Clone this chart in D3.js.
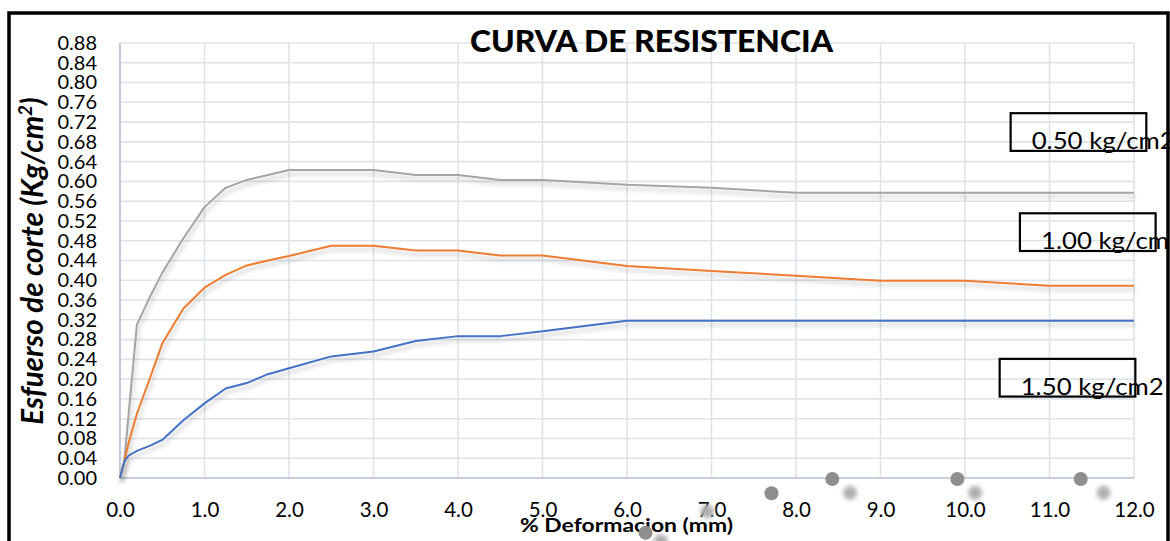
<!DOCTYPE html>
<html>
<head>
<meta charset="utf-8">
<script src="https://cdn.jsdelivr.net/npm/d3@7/dist/d3.min.js"></script>
<style>
  html, body { margin: 0; padding: 0; background: #fff; }
  svg { display: block; }
  text { font-family: Lato, "Open Sans", "DejaVu Sans", sans-serif; fill: #000; }
</style>
</head>
<body>
<svg id="chart" width="1170" height="541"></svg>
<script>
// Deformation readings (mm) shared by the three tests
const deformacion = [0, 0.05, 0.1, 0.2, 0.35, 0.5, 0.75, 1.0, 1.25, 1.5, 1.75, 2.0, 2.5, 3.0, 3.5, 4.0, 4.5, 5.0, 6.0, 7.0, 8.0, 9.0, 10.0, 11.0, 12.0];

// Shear stress (Kg/cm2) for each normal load
const esfuerzo050 = [0, 0.033, 0.125, 0.31, 0.365, 0.415, 0.485, 0.548, 0.587, 0.603, 0.613, 0.623, 0.623, 0.623, 0.613, 0.613, 0.603, 0.603, 0.593, 0.587, 0.577, 0.577, 0.577, 0.577, 0.577];
const esfuerzo100 = [0, 0.033, 0.07, 0.13, 0.2, 0.272, 0.343, 0.385, 0.411, 0.43, 0.44, 0.449, 0.47, 0.47, 0.46, 0.46, 0.45, 0.45, 0.429, 0.419, 0.409, 0.399, 0.399, 0.389, 0.389];
const esfuerzo150 = [0, 0.033, 0.045, 0.055, 0.065, 0.077, 0.117, 0.151, 0.181, 0.192, 0.21, 0.222, 0.246, 0.256, 0.277, 0.287, 0.287, 0.297, 0.318, 0.318, 0.318, 0.318, 0.318, 0.318, 0.318];

const seriesNames = ["0.50 kg/cm2", "1.00 kg/cm2", "1.50 kg/cm2"];
const seriesColors = ["#a5a5a5", "#ed7d31", "#4472c4"];

// Axis ticks
const xTicks = [0, 1, 2, 3, 4, 5, 6, 7, 8, 9, 10, 11, 12];
const yTicks = [0, 0.04, 0.08, 0.12, 0.16, 0.20, 0.24, 0.28, 0.32, 0.36, 0.40, 0.44, 0.48, 0.52, 0.56, 0.60, 0.64, 0.68, 0.72, 0.76, 0.80, 0.84, 0.88];

// Boxed load labels, anchored at the box's top-left corner (data units)
const labelAnchors = [
  { text: "0.50 kg/cm2", x: 10.54, y: 0.738 },
  { text: "1.00 kg/cm2", x: 10.65, y: 0.5355 },
  { text: "1.50 kg/cm2", x: 10.41, y: 0.241 }
];

// Small grey handle dots below the axis (data units)
const handleDots = [
  { x: 8.43, y: -0.002, soft: false },
  { x: 9.91, y: -0.002, soft: false },
  { x: 11.37, y: -0.002, soft: false },
  { x: 7.71, y: -0.031, soft: false },
  { x: 8.64, y: -0.030, soft: true },
  { x: 10.12, y: -0.030, soft: true },
  { x: 11.64, y: -0.030, soft: true },
  { x: 6.95, y: -0.068, soft: true },
  { x: 6.22, y: -0.111, soft: false },
  { x: 6.40, y: -0.128, soft: true }
];

const svg = d3.select("#chart");
const W = 1170, H = 541;
const margin = { left: 120, right: 36, top: 43, bottom: 63 };

const x = d3.scaleLinear().domain([0, 12]).range([margin.left, W - margin.right]);
const y = d3.scaleLinear().domain([0, 0.88]).range([H - margin.bottom, margin.top]);

const defs = svg.append("defs");
const shadow = defs.append("filter").attr("id", "lineShadow")
  .attr("x", "-5%").attr("y", "-20%").attr("width", "110%").attr("height", "140%");
shadow.append("feDropShadow")
  .attr("dx", 1.5).attr("dy", 4).attr("stdDeviation", 2.2)
  .attr("flood-color", "#000").attr("flood-opacity", 0.22);
const soft = defs.append("filter").attr("id", "softDot")
  .attr("x", "-100%").attr("y", "-100%").attr("width", "300%").attr("height", "300%");
soft.append("feGaussianBlur").attr("stdDeviation", 2.2);

svg.append("rect").attr("width", W).attr("height", H).attr("fill", "#fff");

// Gridlines
const grid = svg.append("g").attr("stroke", "#dfe3ea").attr("stroke-width", 1.6);
grid.selectAll("line.h").data(yTicks.slice(1)).join("line")
  .attr("x1", x(0)).attr("x2", x(12))
  .attr("y1", d => y(d)).attr("y2", d => y(d));
grid.selectAll("line.v").data(xTicks.slice(1)).join("line")
  .attr("y1", y(0)).attr("y2", y(0.88))
  .attr("x1", d => x(d)).attr("x2", d => x(d));

// Axes lines
svg.append("line").attr("x1", x(0)).attr("x2", x(0)).attr("y1", y(0)).attr("y2", y(0.88))
  .attr("stroke", "#b4bfd3").attr("stroke-width", 1.6);
svg.append("line").attr("x1", x(0)).attr("x2", x(12)).attr("y1", y(0)).attr("y2", y(0))
  .attr("stroke", "#b4bfd3").attr("stroke-width", 1.6);

// Tick labels via d3 axes
const yAxis = d3.axisLeft(y).tickValues(yTicks).tickFormat(d3.format(".2f")).tickSize(0).tickPadding(23);
const gy = svg.append("g").attr("transform", `translate(${x(0)},0)`).call(yAxis);
gy.select(".domain").remove();
gy.selectAll("text").attr("font-size", 20).attr("font-family", "Lato, 'Open Sans', sans-serif").attr("fill", "#000");

const xAxis = d3.axisBottom(x).tickValues(xTicks).tickFormat(d3.format(".1f")).tickSize(0).tickPadding(24);
const gx = svg.append("g").attr("transform", `translate(0,${y(0)})`).call(xAxis);
gx.select(".domain").remove();
gx.selectAll("text").attr("font-size", 20.5).attr("font-family", "Lato, 'Open Sans', sans-serif").attr("fill", "#000");

// Series lines
const allSeries = [esfuerzo050, esfuerzo100, esfuerzo150];
const line = d3.line().x(d => x(d[0])).y(d => y(d[1]));
const linesG = svg.append("g");
allSeries.forEach((vals, i) => {
  const pts = deformacion.map((d, j) => [d, vals[j]]);
  linesG.append("path")
    .datum(pts)
    .attr("d", line)
    .attr("fill", "none")
    .attr("stroke", seriesColors[i])
    .attr("stroke-width", 2)
    .attr("stroke-linejoin", "round")
    .attr("filter", "url(#lineShadow)");
});

// Title
svg.append("text")
  .attr("x", 651.5).attr("y", 51.5)
  .attr("text-anchor", "middle")
  .attr("font-size", 31).attr("font-weight", 900)
  .attr("textLength", 363).attr("lengthAdjust", "spacingAndGlyphs")
  .text("CURVA DE RESISTENCIA");

// Axis titles
svg.append("text")
  .attr("x", 626.5).attr("y", 532)
  .attr("text-anchor", "middle")
  .attr("font-size", 18).attr("font-weight", 700)
  .attr("textLength", 213).attr("lengthAdjust", "spacingAndGlyphs")
  .text("% Deformacion (mm)");

const yt = svg.append("text")
  .attr("transform", "translate(43,261) rotate(-90)")
  .attr("text-anchor", "middle")
  .attr("font-size", 29.5).attr("font-weight", 700).attr("font-style", "italic");
yt.append("tspan").text("Esfuerso de corte (Kg/cm");
yt.append("tspan").attr("font-size", 18.5).attr("dy", -11).text("2");
yt.append("tspan").attr("dy", 11).text(")");

// Boxed load labels
const boxW = 135.7, boxH = 37.7;
const lab = svg.append("g").selectAll("g").data(labelAnchors).join("g")
  .attr("transform", d => `translate(${x(d.x)},${y(d.y)})`);
lab.append("rect")
  .attr("width", boxW).attr("height", boxH)
  .attr("fill", "none").attr("stroke", "#000").attr("stroke-width", 2.2);
lab.append("text")
  .attr("x", 21).attr("y", 36)
  .attr("font-size", 24)
  .attr("textLength", 143).attr("lengthAdjust", "spacingAndGlyphs")
  .text(d => d.text);

// Handle dots
svg.append("g").selectAll("circle").data(handleDots).join("circle")
  .attr("cx", d => x(d.x)).attr("cy", d => y(d.y))
  .attr("r", 7)
  .attr("fill", d => d.soft ? "#b0b0b0" : "#8e8e8e")
  .attr("filter", d => d.soft ? "url(#softDot)" : null);

// Outer frame
svg.append("path")
  .attr("d", `M9,${H + 10} L9,13 L1168,13 L1168,${H + 10}`)
  .attr("fill", "none").attr("stroke", "#000").attr("stroke-width", 3.5);
</script>
</body>
</html>
